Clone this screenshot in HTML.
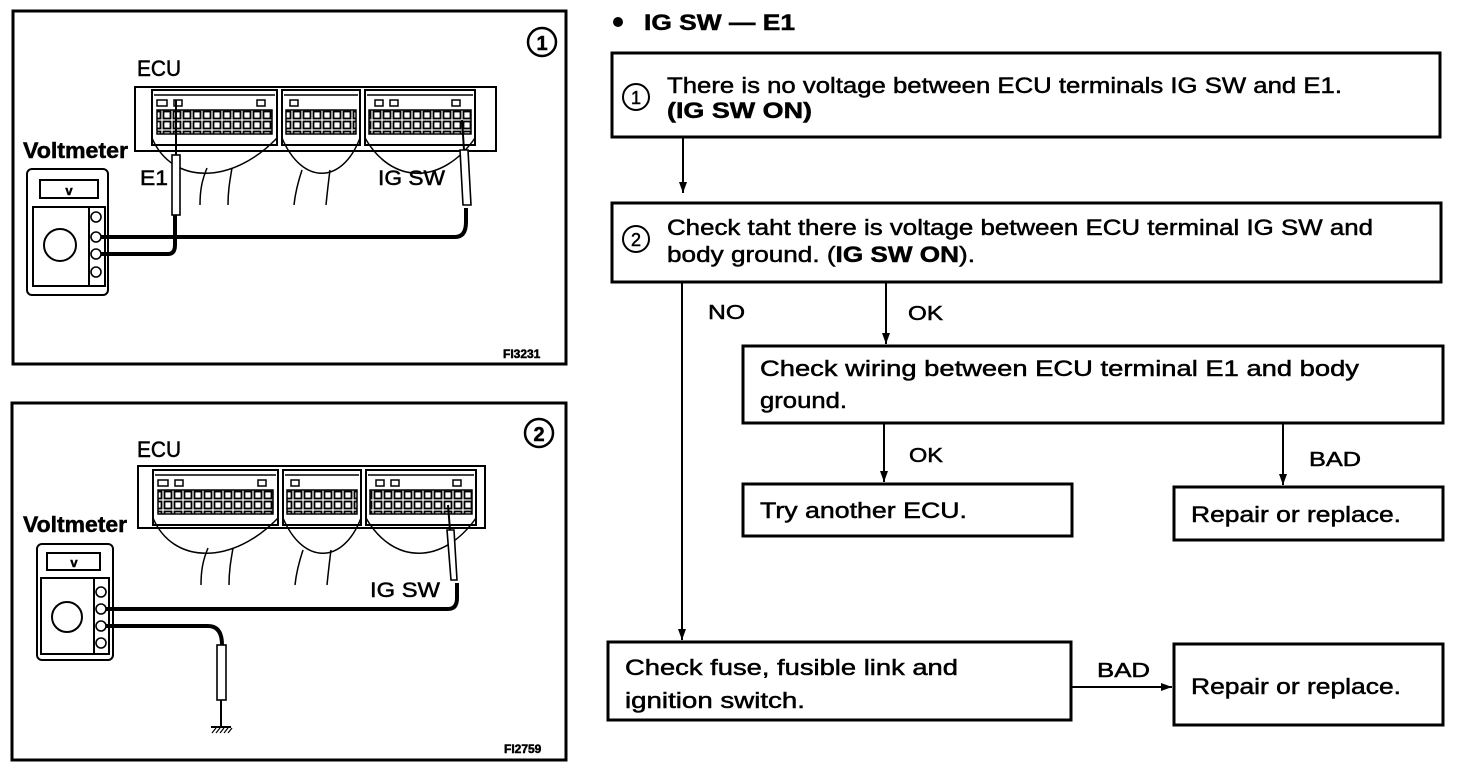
<!DOCTYPE html>
<html><head><meta charset="utf-8"><style>
html,body{margin:0;padding:0;background:#fff;}
svg{display:block;}
text{font-family:"Liberation Sans",sans-serif;fill:#000;stroke:#000;stroke-width:0.5;}
</style></head><body>
<svg width="1472" height="776" viewBox="0 0 1472 776" xmlns="http://www.w3.org/2000/svg">
<defs>
<pattern id="pins" x="0" y="0" width="10" height="10" patternUnits="userSpaceOnUse">
<rect x="1.5" y="1.5" width="7" height="7" fill="#fff" stroke="#000" stroke-width="1.8"/>
</pattern>
<marker id="ah" markerWidth="12" markerHeight="8" refX="11" refY="4" orient="auto" markerUnits="userSpaceOnUse">
<path d="M0,0 L11,4 L0,8 Z" fill="#000"/></marker>
<g id="conn">
<rect x="0" y="0" width="125" height="55" fill="#fff" stroke="#000" stroke-width="2"/>
<rect x="5" y="20" width="115" height="24" fill="url(#pins)" stroke="#000" stroke-width="1.5"/>
<rect x="130" y="0" width="78" height="55" fill="#fff" stroke="#000" stroke-width="2"/>
<rect x="134" y="20" width="70" height="24" fill="url(#pins)" stroke="#000" stroke-width="1.5"/>
<rect x="213" y="0" width="110" height="55" fill="#fff" stroke="#000" stroke-width="2"/>
<rect x="217" y="20" width="102" height="24" fill="url(#pins)" stroke="#000" stroke-width="1.5"/>
<path d="M5,10 h10 v6 h-10z M22,10 h8 v6 h-8z M105,10 h8 v6 h-8z M138,10 h8 v6 h-8z M223,10 h8 v6 h-8z M238,10 h8 v6 h-8z M300,10 h8 v6 h-8z" fill="none" stroke="#000" stroke-width="1.5"/>
<path d="M2,5 h121 M132,5 h74 M215,5 h106" stroke="#000" stroke-width="1.5"/>
<path d="M0,48 C20,95 80,95 125,48 M130,48 C150,95 190,95 208,48 M213,48 C240,95 290,95 323,48" fill="none" stroke="#000" stroke-width="1.5"/>
<path d="M55,78 C50,90 48,100 48,115 M80,78 C78,90 76,100 76,115 M150,80 C145,95 143,105 142,115 M178,80 C176,95 175,105 174,115" fill="none" stroke="#000" stroke-width="1.5"/>
</g>
</defs>

<!-- Panel 1 -->
<rect x="13" y="11" width="553" height="353" fill="none" stroke="#000" stroke-width="3"/>
<circle cx="542" cy="42" r="14" fill="none" stroke="#000" stroke-width="2.5"/>
<text x="542" y="50" font-size="20" font-weight="bold" text-anchor="middle">1</text>
<text x="137" y="76" font-size="22" textLength="44" lengthAdjust="spacingAndGlyphs">ECU</text>
<rect x="135" y="87" width="361" height="64" fill="#fff" stroke="#000" stroke-width="2"/>
<use href="#conn" x="152" y="90"/>
<text x="23" y="158" font-size="22" font-weight="bold" textLength="105" lengthAdjust="spacingAndGlyphs">Voltmeter</text>
<text x="140" y="185" font-size="21" textLength="28" lengthAdjust="spacingAndGlyphs">E1</text>
<text x="378" y="185" font-size="21" textLength="67" lengthAdjust="spacingAndGlyphs">IG SW</text>
<rect x="27" y="169" width="81" height="126" rx="5" fill="#fff" stroke="#000" stroke-width="2"/>
<rect x="40" y="180" width="58" height="18" fill="#fff" stroke="#000" stroke-width="2"/>
<text x="69" y="195" font-size="13" font-weight="bold" text-anchor="middle">v</text>
<rect x="33" y="207" width="72" height="79" fill="#fff" stroke="#000" stroke-width="2"/>
<line x1="89" y1="207" x2="89" y2="286" stroke="#000" stroke-width="2"/>
<circle cx="60" cy="245" r="16" fill="none" stroke="#000" stroke-width="2"/>
<circle cx="96" cy="217" r="5" fill="none" stroke="#000" stroke-width="1.6"/>
<circle cx="96" cy="237" r="5" fill="none" stroke="#000" stroke-width="1.6"/>
<circle cx="96" cy="254" r="5" fill="none" stroke="#000" stroke-width="1.6"/>
<circle cx="96" cy="272" r="5" fill="none" stroke="#000" stroke-width="1.6"/>
<path d="M101,237 H455 Q466,237 466,222 V208" fill="none" stroke="#000" stroke-width="4"/>
<path d="M101,254 H168 Q175,254 175,245 V214" fill="none" stroke="#000" stroke-width="4"/>
<rect x="172" y="155" width="8" height="60" fill="#fff" stroke="#000" stroke-width="1.6"/>
<line x1="176" y1="100" x2="176" y2="155" stroke="#000" stroke-width="2"/>
<path d="M460,150 L468,150 L471,205 L463,205 Z" fill="#fff" stroke="#000" stroke-width="1.6"/>
<line x1="462" y1="120" x2="464" y2="150" stroke="#000" stroke-width="2"/>
<text x="503" y="358" font-size="12" font-weight="bold">FI3231</text>

<!-- Panel 2 -->
<rect x="12" y="403" width="554" height="357" fill="none" stroke="#000" stroke-width="3"/>
<circle cx="539" cy="433" r="14" fill="none" stroke="#000" stroke-width="2.5"/>
<text x="539" y="441" font-size="20" font-weight="bold" text-anchor="middle">2</text>
<text x="137" y="457" font-size="22" textLength="44" lengthAdjust="spacingAndGlyphs">ECU</text>
<rect x="138" y="466" width="347" height="62" fill="#fff" stroke="#000" stroke-width="2"/>
<use href="#conn" x="153" y="470"/>
<text x="23" y="532" font-size="22" font-weight="bold" textLength="104" lengthAdjust="spacingAndGlyphs">Voltmeter</text>
<text x="370" y="597" font-size="21" textLength="70" lengthAdjust="spacingAndGlyphs">IG SW</text>
<rect x="37" y="544" width="76" height="116" rx="5" fill="#fff" stroke="#000" stroke-width="2"/>
<rect x="47" y="553" width="53" height="17" fill="#fff" stroke="#000" stroke-width="2"/>
<text x="74" y="567" font-size="13" font-weight="bold" text-anchor="middle">v</text>
<rect x="41" y="578" width="68" height="76" fill="#fff" stroke="#000" stroke-width="2"/>
<line x1="94" y1="578" x2="94" y2="654" stroke="#000" stroke-width="2"/>
<circle cx="67" cy="617" r="15" fill="none" stroke="#000" stroke-width="2"/>
<circle cx="101" cy="592" r="5" fill="none" stroke="#000" stroke-width="1.6"/>
<circle cx="101" cy="609" r="5" fill="none" stroke="#000" stroke-width="1.6"/>
<circle cx="101" cy="626" r="5" fill="none" stroke="#000" stroke-width="1.6"/>
<circle cx="101" cy="643" r="5" fill="none" stroke="#000" stroke-width="1.6"/>
<path d="M106,609 H448 Q457,609 457,598 V583" fill="none" stroke="#000" stroke-width="4"/>
<path d="M106,626 H208 Q222,626 222,645" fill="none" stroke="#000" stroke-width="4"/>
<path d="M447,530 L454,530 L457,580 L451,580 Z" fill="#fff" stroke="#000" stroke-width="1.6"/>
<line x1="448" y1="505" x2="450" y2="530" stroke="#000" stroke-width="2"/>
<rect x="217" y="645" width="9" height="55" fill="#fff" stroke="#000" stroke-width="1.6"/>
<line x1="221" y1="700" x2="221" y2="727" stroke="#000" stroke-width="2"/>
<line x1="211" y1="727" x2="231" y2="727" stroke="#000" stroke-width="2"/>
<path d="M212,733 l4,-5 M216,733 l4,-5 M220,733 l4,-5 M224,733 l4,-5 M228,733 l4,-5" stroke="#000" stroke-width="1.2"/>
<text x="504" y="753" font-size="12" font-weight="bold">FI2759</text>

<!-- Flowchart -->
<circle cx="618" cy="22" r="5" fill="#000"/>
<text x="644" y="30" font-size="22" font-weight="bold" textLength="151" lengthAdjust="spacingAndGlyphs">IG SW — E1</text>

<rect x="612" y="53" width="828" height="84" fill="none" stroke="#000" stroke-width="3"/>
<circle cx="636" cy="97" r="13" fill="none" stroke="#000" stroke-width="2"/>
<text x="636" y="104" font-size="18" text-anchor="middle">1</text>
<text x="667" y="93" font-size="22" textLength="675" lengthAdjust="spacingAndGlyphs">There is no voltage between ECU terminals IG SW and E1.</text>
<text x="667" y="118" font-size="22" font-weight="bold" textLength="145" lengthAdjust="spacingAndGlyphs">(IG SW ON)</text>

<line x1="683" y1="137" x2="683" y2="193" stroke="#000" stroke-width="2" marker-end="url(#ah)"/>

<rect x="612" y="203" width="829" height="79" fill="none" stroke="#000" stroke-width="3"/>
<circle cx="636" cy="239" r="13" fill="none" stroke="#000" stroke-width="2"/>
<text x="636" y="246" font-size="18" text-anchor="middle">2</text>
<text x="667" y="235" font-size="22" textLength="706" lengthAdjust="spacingAndGlyphs">Check taht there is voltage between ECU terminal IG SW and</text>
<text x="667" y="262" font-size="22" textLength="308" lengthAdjust="spacingAndGlyphs">body ground. (<tspan font-weight="bold">IG SW ON</tspan>).</text>

<line x1="682" y1="282" x2="682" y2="640" stroke="#000" stroke-width="2" marker-end="url(#ah)"/>
<text x="708" y="319" font-size="20" textLength="37" lengthAdjust="spacingAndGlyphs">NO</text>
<line x1="886" y1="282" x2="886" y2="344" stroke="#000" stroke-width="2" marker-end="url(#ah)"/>
<text x="908" y="320" font-size="20" textLength="35" lengthAdjust="spacingAndGlyphs">OK</text>

<rect x="743" y="346" width="700" height="77" fill="none" stroke="#000" stroke-width="3"/>
<text x="760" y="376" font-size="22" textLength="599" lengthAdjust="spacingAndGlyphs">Check wiring between ECU terminal E1 and body</text>
<text x="760" y="408" font-size="22" textLength="87" lengthAdjust="spacingAndGlyphs">ground.</text>

<line x1="884" y1="423" x2="884" y2="482" stroke="#000" stroke-width="2" marker-end="url(#ah)"/>
<text x="909" y="462" font-size="20" textLength="34" lengthAdjust="spacingAndGlyphs">OK</text>
<line x1="1283" y1="423" x2="1283" y2="485" stroke="#000" stroke-width="2" marker-end="url(#ah)"/>
<text x="1309" y="466" font-size="20" textLength="52" lengthAdjust="spacingAndGlyphs">BAD</text>

<rect x="743" y="484" width="329" height="52" fill="none" stroke="#000" stroke-width="3"/>
<text x="760" y="518" font-size="22" textLength="207" lengthAdjust="spacingAndGlyphs">Try another ECU.</text>
<rect x="1174" y="487" width="269" height="53" fill="none" stroke="#000" stroke-width="3"/>
<text x="1191" y="522" font-size="22" textLength="210" lengthAdjust="spacingAndGlyphs">Repair or replace.</text>

<rect x="608" y="642" width="463" height="78" fill="none" stroke="#000" stroke-width="3"/>
<text x="625" y="675" font-size="22" textLength="333" lengthAdjust="spacingAndGlyphs">Check fuse, fusible link and</text>
<text x="625" y="708" font-size="22" textLength="180" lengthAdjust="spacingAndGlyphs">ignition switch.</text>
<line x1="1071" y1="687" x2="1172" y2="687" stroke="#000" stroke-width="2" marker-end="url(#ah)"/>
<text x="1097" y="677" font-size="20" textLength="53" lengthAdjust="spacingAndGlyphs">BAD</text>
<rect x="1174" y="644" width="269" height="81" fill="none" stroke="#000" stroke-width="3"/>
<text x="1191" y="694" font-size="22" textLength="210" lengthAdjust="spacingAndGlyphs">Repair or replace.</text>
</svg>
</body></html>
